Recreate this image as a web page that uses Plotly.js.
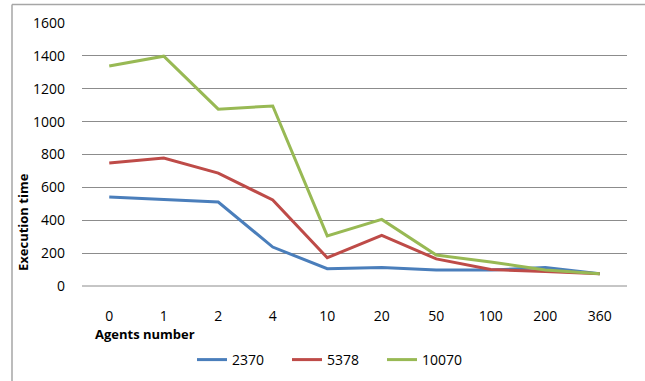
<!DOCTYPE html>
<html><head><meta charset="utf-8">
<script src="https://cdn.plot.ly/plotly-3.0.1.min.js"></script>
<style>html,body{margin:0;padding:0;background:#fff;}</style>
</head><body>
<div id="chart" style="width:645px;height:381px;"></div>
<script>
var categories = ["0","1","2","4","10","20","50","100","200","360"];
var series2370 = [541, 525, 511, 237, 105, 112, 98, 97, 112, 75];
var series5378 = [748, 779, 687, 523, 172, 308, 165, 100, 88, 75];
var series10070 = [1338, 1398, 1076, 1095, 305, 405, 188, 146, 98, 75];
var seriesNames = ["2370", "5378", "10070"];
var yTicks = [0, 200, 400, 600, 800, 1000, 1200, 1400, 1600];

var font = "'Open Sans', 'Liberation Sans', Arial, sans-serif";
function tr(y, name, color) {
  return {x: categories, y: y, name: name, type: 'scatter', mode: 'lines',
    line: {color: color, width: 3}};
}
var data = [
  tr(series2370, seriesNames[0], '#4a7ebb'),
  tr(series5378, seriesNames[1], '#be4b48'),
  tr(series10070, seriesNames[2], '#98b954')
];
var W = 645, H = 381;
var L = 82, R = 627, T = 23, B = 286;
function px(x){ return (x - L) / (R - L); }
function py(y){ return (B - y) / (B - T); }
var layout = {
  width: W, height: H,
  margin: {l: L, r: W - R, t: T, b: H - B, pad: 0},
  paper_bgcolor: '#fff', plot_bgcolor: '#fff',
  font: {family: font, size: 14, color: '#000'},
  showlegend: true,
  legend: {orientation: 'h', xref: 'container', yref: 'container',
    x: 192 / W, xanchor: 'left', y: (H - 360) / H, yanchor: 'middle',
    font: {size: 14}, tracegroupgap: 0, entrywidth: 50, entrywidthmode: 'pixels'},
  xaxis: {type: 'category', range: [-0.5, 9.5], showgrid: false, zeroline: false, automargin: false,
    showline: false, ticks: '', ticklabelstandoff: 20, fixedrange: true},
  yaxis: {range: [0, 1600], tickvals: yTicks, showgrid: true, gridcolor: '#8c8c8c', gridwidth: 1,
    zeroline: false, showline: false, ticks: '', ticklabelstandoff: 16, automargin: false},
  annotations: [
    {text: '<b>Agents number</b>', xref: 'paper', yref: 'paper', x: px(93), y: py(334),
     xanchor: 'left', yanchor: 'middle', showarrow: false, font: {size: 13}},
    {text: '<b>Execution time</b>', xref: 'paper', yref: 'paper', x: px(23), y: py(222),
     xanchor: 'center', yanchor: 'middle', textangle: -90, showarrow: false, font: {size: 13}}
  ],
  shapes: [
    {type: 'line', xref: 'paper', yref: 'paper', x0: px(12), x1: px(650), y0: py(4.5), y1: py(4.5),
     line: {color: '#a6a6a6', width: 1.5}},
    {type: 'line', xref: 'paper', yref: 'paper', x0: px(12), x1: px(12), y0: py(4.5), y1: py(390),
     line: {color: '#a6a6a6', width: 1.5}},
    {type: 'line', xref: 'paper', yref: 'paper', x0: 0, x1: 1, y0: 0, y1: 0,
     line: {color: '#8c8c8c', width: 1}}
  ]
};
Plotly.newPlot('chart', data, layout, {staticPlot: true});
</script>
</body></html>
